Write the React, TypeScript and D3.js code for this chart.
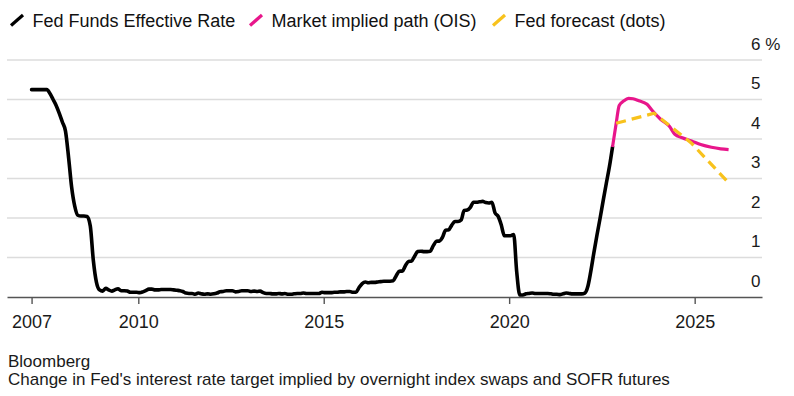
import React, { useRef, useEffect } from 'react';
import * as d3 from 'd3';

const FONT = '"Liberation Sans", Arial, Helvetica, sans-serif';

// Fed Funds Effective Rate, monthly values (mid-month), from Feb 2007
const ffStartYear = 2007;
const ffStartMonth = 1; // February
const ff2007 = [5.25, 5.25, 5.25, 5.25, 5.25, 5.25, 5.15, 5.0, 4.85, 4.65, 4.43];
const ff2008 = [4.2, 3.52, 2.79, 2.3, 2.07, 2.05, 2.05, 2.04, 1.8, 0.93, 0.37, 0.18];
const ff2009 = [0.15, 0.22, 0.18, 0.15, 0.18, 0.21, 0.16, 0.16, 0.15, 0.12, 0.12, 0.12];
const ff2010 = [0.11, 0.13, 0.16, 0.2, 0.2, 0.18, 0.18, 0.19, 0.19, 0.19, 0.19, 0.18];
const ff2011 = [0.17, 0.16, 0.14, 0.1, 0.09, 0.09, 0.07, 0.1, 0.08, 0.07, 0.08, 0.07];
const ff2012 = [0.08, 0.1, 0.13, 0.14, 0.16, 0.16, 0.16, 0.13, 0.14, 0.16, 0.16, 0.16];
const ff2013 = [0.14, 0.15, 0.14, 0.15, 0.11, 0.09, 0.09, 0.08, 0.08, 0.09, 0.08, 0.09];
const ff2014 = [0.07, 0.07, 0.08, 0.09, 0.09, 0.1, 0.09, 0.09, 0.09, 0.09, 0.09, 0.12];
const ff2015 = [0.11, 0.11, 0.11, 0.12, 0.12, 0.13, 0.13, 0.14, 0.14, 0.12, 0.12, 0.24];
const ff2016 = [0.34, 0.38, 0.36, 0.37, 0.37, 0.38, 0.39, 0.4, 0.4, 0.4, 0.41, 0.54];
const ff2017 = [0.65, 0.66, 0.79, 0.9, 0.91, 1.04, 1.15, 1.16, 1.15, 1.15, 1.16, 1.3];
const ff2018 = [1.41, 1.42, 1.51, 1.69, 1.7, 1.82, 1.91, 1.91, 1.95, 2.19, 2.2, 2.27];
const ff2019 = [2.4, 2.4, 2.41, 2.42, 2.39, 2.38, 2.4, 2.13, 2.04, 1.83, 1.55, 1.55];
const ff2020 = [1.55, 1.58, 0.65, 0.05, 0.05, 0.08, 0.09, 0.1, 0.09, 0.09, 0.09, 0.09];
const ff2021 = [0.09, 0.08, 0.07, 0.07, 0.06, 0.08, 0.1, 0.09, 0.08, 0.08, 0.08, 0.08];
const ff2022 = [0.1, 0.28, 0.65, 1.13, 1.57, 2.0, 2.44, 2.88, 3.31, 3.8];

// Market implied path (OIS)
const oisDates = ['2022-10-15', '2022-11-20', '2022-12-20', '2023-02-01', '2023-03-22', '2023-05-05',
  '2023-07-01', '2023-09-20', '2023-11-10', '2024-01-31', '2024-04-25', '2024-06-20',
  '2024-09-01', '2024-12-01', '2025-03-01', '2025-06-15', '2025-09-15', '2025-12-01'];
const oisValues = [3.8, 4.4, 4.85, 4.96, 5.03, 5.02, 4.97, 4.88, 4.72, 4.5, 4.33, 4.12,
  4.03, 3.95, 3.86, 3.79, 3.75, 3.73];

// Fed forecast (dots)
const dotsDates = ['2022-11-20', '2023-11-28', '2024-11-28', '2025-11-28'];
const dotsValues = [4.4, 4.65, 3.9, 2.9];

const yTicks = [0, 1, 2, 3, 4, 5, 6];
const xTickDates = ['2007-02-15', '2010-01-01', '2015-01-01', '2020-01-01', '2025-01-01'];

const legendItems = [
  { label: 'Fed Funds Effective Rate', color: '#000000' },
  { label: 'Market implied path (OIS)', color: '#e8168b' },
  { label: 'Fed forecast (dots)', color: '#f8c21c' },
];

const sourceLines = [
  'Bloomberg',
  "Change in Fed's interest rate target implied by overnight index swaps and SOFR futures",
];

const parse = d3.timeParse('%Y-%m-%d');

const App = () => {
  const chartRef = useRef<SVGSVGElement>(null);

  useEffect(() => {
    const svg = d3.select(chartRef.current);
    svg.selectAll('*').remove();

    const ffValues = [].concat(ff2007, ff2008, ff2009, ff2010, ff2011, ff2012, ff2013, ff2014,
      ff2015, ff2016, ff2017, ff2018, ff2019, ff2020, ff2021, ff2022);
    const ffData = ffValues.map((v, i) => ({ date: new Date(ffStartYear, ffStartMonth + i, 15), value: v }));
    const oisData = oisDates.map((d, i) => ({ date: parse(d), value: oisValues[i] }));
    const dotsData = dotsDates.map((d, i) => ({ date: parse(d), value: dotsValues[i] }));

    const x = d3.scaleTime()
      .domain([new Date(2006, 5, 18), new Date(2026, 9, 26)])
      .range([7, 762]);
    const y = d3.scaleLinear().domain([0, 6]).range([297, 60]);

    // gridlines
    svg.append('g')
      .selectAll('line')
      .data(yTicks.filter(d => d > 0))
      .join('line')
      .attr('x1', 7)
      .attr('x2', 762)
      .attr('y1', d => y(d))
      .attr('y2', d => y(d))
      .attr('stroke', '#dcdcdc')
      .attr('stroke-width', 1.3);

    // y labels (sit above their gridline)
    svg.append('g')
      .selectAll('text')
      .data(yTicks)
      .join('text')
      .attr('x', 751)
      .attr('y', d => y(d) - 10.5)
      .attr('font-family', FONT)
      .attr('font-size', 17)
      .attr('fill', '#1a1a1a')
      .text(d => (d === 6 ? '6 %' : String(d)));

    // x axis
    const xAxis = d3.axisBottom(x)
      .tickValues(xTickDates.map(d => parse(d)))
      .tickFormat(d3.timeFormat('%Y'))
      .tickSize(7)
      .tickSizeOuter(0)
      .tickPadding(11.5);

    const gx = svg.append('g')
      .attr('transform', `translate(0, ${y(0)})`)
      .call(xAxis)
      .attr('font-family', FONT)
      .attr('font-size', 18);
    gx.select('.domain').attr('stroke', '#555').attr('stroke-width', 1.4);
    gx.selectAll('.tick line').attr('stroke', '#555').attr('stroke-width', 1.4);
    gx.selectAll('.tick text').attr('fill', '#1a1a1a');

    const line = d3.line<{ date: Date; value: number }>()
      .x(d => x(d.date))
      .y(d => y(d.value));

    svg.append('path')
      .datum(ffData)
      .attr('d', line.curve(d3.curveMonotoneX))
      .attr('fill', 'none')
      .attr('stroke', legendItems[0].color)
      .attr('stroke-width', 3.6)
      .attr('stroke-linejoin', 'round')
      .attr('stroke-linecap', 'round');

    svg.append('path')
      .datum(oisData)
      .attr('d', line.curve(d3.curveMonotoneX))
      .attr('fill', 'none')
      .attr('stroke', legendItems[1].color)
      .attr('stroke-width', 3.2)
      .attr('stroke-linejoin', 'round');

    svg.append('path')
      .datum(dotsData)
      .attr('d', line.curve(d3.curveLinear))
      .attr('fill', 'none')
      .attr('stroke', legendItems[2].color)
      .attr('stroke-width', 3.2)
      .attr('stroke-dasharray', '10,6');

    // legend
    const legendX = [10, 249, 492];
    const lg = svg.append('g')
      .selectAll('g')
      .data(legendItems)
      .join('g')
      .attr('transform', (d, i) => `translate(${legendX[i]}, 0)`);
    lg.append('line')
      .attr('x1', 1)
      .attr('y1', 25.5)
      .attr('x2', 13)
      .attr('y2', 15)
      .attr('stroke', d => d.color)
      .attr('stroke-width', 3.2);
    lg.append('text')
      .attr('x', 22.5)
      .attr('y', 26.5)
      .attr('font-family', FONT)
      .attr('font-size', 18)
      .attr('fill', '#111')
      .text(d => d.label);

    // source / note
    svg.append('g')
      .selectAll('text')
      .data(sourceLines)
      .join('text')
      .attr('x', 8)
      .attr('y', (d, i) => 366.5 + i * 18.5)
      .attr('font-family', FONT)
      .attr('font-size', 17)
      .attr('fill', '#1a1a1a')
      .text(d => d);
  }, []);

  return (
    <svg
      ref={chartRef}
      width={794}
      height={396}
      style={{ position: 'absolute', left: 0, top: 0, background: '#fff' }}
    ></svg>
  );
};

export default App;
